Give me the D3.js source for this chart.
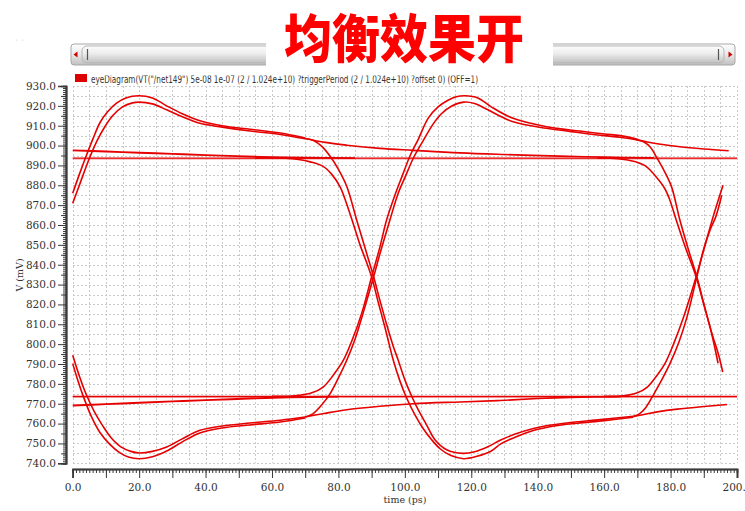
<!DOCTYPE html>
<html>
<head>
<meta charset="utf-8">
<script src="https://cdn.jsdelivr.net/npm/d3@7"></script>
<style>
  html, body { margin: 0; padding: 0; background: #ffffff; }
  svg { display: block; }
</style>
</head>
<body>
<svg id="chart" width="745" height="511"></svg>
<script>
// ---- Axis ticks -------------------------------------------------------
const xTickValues = [0, 20, 40, 60, 80, 100, 120, 140, 160, 180, 200];
const yTickValues = [740, 750, 760, 770, 780, 790, 800, 810, 820, 830, 840,
                     850, 860, 870, 880, 890, 900, 910, 920, 930];

// ---- Eye diagram traces: [time (ps), V (mV)] --------------------------
// first bit: rising edge overshoot (two passes)
const riseOuterA = [[0,876],[2,885.5],[4,894.5],[6,903],[8.2,911.5],[10.5,917],[13.2,921.4],[16,924],[19.8,925.1],[24,924],[28.3,920],[33,916],[38.3,912.5],[45,910],[53.4,908.2],[62.5,906.3],[70,903.8]];
const riseInnerA = [[0,871],[2,880],[5,893.5],[7.5,903],[9.5,909],[12,915],[15,919.5],[18,921.5],[20,921.9],[24,921],[28.3,918],[33,914.5],[38.3,911.2],[45,909.3],[53.4,907.3],[62.5,905.6],[70,903.4]];
// first bit: falling edge undershoot (two passes)
const fallOuterA = [[0,790.2],[1.5,782],[3.2,773.7],[5.5,764],[8.2,755.5],[11.2,749.5],[14,745.5],[17,743],[20,742.3],[24,743.3],[28.3,746.2],[33,750.8],[38.3,755.3],[45,757.8],[53.4,759.3],[62.5,760.8],[70,762.8]];
const fallInnerA = [[0,794.4],[2,784],[4,775],[6.5,766],[9,759],[11.5,753],[14.5,748.3],[17.5,746],[20,745.2],[24,746],[28.3,748.2],[33,752.3],[38.3,756.6],[45,758.8],[53.4,760.3],[62.5,761.7],[70,763.3]];
// long runs settling toward the steady levels
const highSettleA = [[0,897.6],[10,897],[20,896.4],[30,895.8],[40,895.2],[56.6,894.3],[70,893.9],[85,893.7]];
const lowSettleA  = [[0,769.1],[10,769.8],[20,770.5],[30,771.2],[40,771.8],[53,772.6],[65,773.2],[80,773.6]];
const highSteady  = [[0,893.7],[200,893.7]];
const lowSteady   = [[0,773.7],[200,773.7]];
// held levels after the first bit
const highHoldA = [[70,903.6],[76,901.6],[82.5,900.2],[92.5,898.6],[102.5,897.6],[116.6,896.3],[130,895.5],[146.7,894.7],[160,894.2],[175,893.8]];
const lowHoldA  = [[70,763.3],[76,765.2],[82.5,767],[92.5,768.7],[102.5,770],[116.6,770.9],[128.7,771.6],[140,772.6],[150,773.2],[165,773.6]];
// transitions through the middle crossing into the second bit
const fallFromPeak = [[70,903.6],[72.5,902.6],[75,899.6],[77.5,894.6],[80,888],[82.5,879.5],[85.5,862.5],[88,848.5],[90.6,833.9],[92.5,822],[94.5,810],[96.5,799],[98,791.9],[100,782],[102,774],[104,767],[106.5,759.5],[109,752],[112.6,746.8],[117.5,745],[121,745.8],[125,748.3],[128.7,751.6],[133,754.6],[138.7,757.5],[143,759],[148.7,760.3],[158.8,762],[168.8,763.7]];
const fallFromHold = [[55,893.7],[64,893.6],[68,893],[71.5,891.8],[75.4,889.5],[78,885.5],[80.5,879.2],[82.3,871.5],[84.1,862.5],[86.5,850],[88.3,842],[90,833.9],[92,821],[94,808.5],[96.5,792],[98.5,781.5],[100.5,773],[103,764.5],[105.5,757.5],[108,752],[110.7,747.2],[113.7,744],[117.7,742.3],[121.7,743.5],[126,746.2],[129,749.9],[133,753],[138.7,756.5],[145,758.8],[152,760.2],[160,761.5],[168.8,763.2]];
const riseFromUnder = [[70,763.3],[72.4,765],[75,769.5],[77.5,775.1],[80,783],[82.5,791.9],[85,802.5],[87.5,816],[90.6,833.9],[92.5,845.5],[95.5,862.5],[98,876],[100.3,885],[102.5,893.5],[105,901],[108.5,910.8],[111,916],[114,919.8],[117.7,921.9],[121,921.2],[125,918],[132.6,912],[142.7,908.7],[152.7,906.5],[160,905],[164.8,904.2],[170,902.8]];
const riseFromHold = [[60,773.7],[65,773.8],[68,774.2],[72,775.5],[75.4,778.4],[78.5,784.5],[81.5,791.9],[84,801.5],[87,815.5],[90,833.9],[92.5,849],[94.5,862.5],[97,875],[99.3,885.1],[101.6,895],[104,903],[107,913.7],[110,919.5],[113,922.8],[115.5,924.6],[118.1,925.1],[122,924],[126,919.5],[132.6,913.7],[142.7,909.5],[152.7,907.3],[160,905.8],[164.8,905],[170,903.2]];
// second bit: held levels and the edges into the right-hand crossing
const highHoldB = [[169.8,903],[173,901.8],[176.5,900.8],[182.8,899.4],[190,898.3],[197.5,897.4]];
const lowHoldB  = [[168.8,763.6],[172,764.6],[176,765.9],[182,767.3],[190,768.6],[197,769.6]];
const fallPeakB = [[169.8,902.8],[172,901.8],[174,899],[175.8,894],[178,887.5],[180.3,879.2],[182.8,862.5],[185.3,848],[187.9,833.9],[190.3,818.5],[192.5,805],[194.3,795.5],[195.7,786]];
const fallHoldB = [[158,893.7],[162,893.6],[166,893],[169.5,891.8],[172.8,889.3],[175.5,884.5],[178.2,878.5],[179.8,872.5],[181.7,862.5],[184.5,848.5],[187.7,833.9],[190,820],[192.2,806.5],[194.3,790.4]];
const riseUnderB = [[168.8,763.7],[170.5,764.8],[172.5,768],[175,775],[177.5,782.5],[179.8,790.2],[182.5,801],[185,814],[187.9,833.9],[190,848],[192,858],[193.6,864.1],[195.4,875]];
const riseHoldB  = [[160,773.7],[164,773.8],[167,774.3],[170,775.5],[173,778.4],[176,784.5],[178.3,790.2],[181,800.5],[184,814],[187.7,833.9],[190,847.5],[192.8,864.1],[195.8,880]];

const traces = [riseOuterA, riseInnerA, fallOuterA, fallInnerA, highHoldA, lowHoldA,
                fallFromPeak, fallFromHold, riseFromUnder, riseFromHold,
                highHoldB, lowHoldB, fallPeakB, fallHoldB, riseUnderB, riseHoldB];
const settleTraces = [highSettleA, lowSettleA];
const steadyTraces = [highSteady, lowSteady];

const legendLabel = 'eyeDiagram(VT("/net149") 5e-08 1e-07 (2 / 1.024e+10) ?triggerPeriod (2 / 1.024e+10) ?offset 0) (OFF=1)';
const titleText = '均衡效果开';

// ---- Drawing ----------------------------------------------------------
const svg = d3.select('#chart');
const x = d3.scaleLinear().domain([0, 200]).range([72.7, 737]);
const y = d3.scaleLinear().domain([740, 930]).range([463.3, 86]);
const RED = '#e60000';
const AXIS = '#3a3a3a';

// scrollbar strip above the plot
const defs = svg.append('defs');
const grad = defs.append('linearGradient').attr('id', 'sbGrad')
  .attr('x1', 0).attr('y1', 0).attr('x2', 0).attr('y2', 1);
grad.append('stop').attr('offset', '0%').attr('stop-color', '#fdfdfd');
grad.append('stop').attr('offset', '45%').attr('stop-color', '#ececec');
grad.append('stop').attr('offset', '100%').attr('stop-color', '#c0c0c0');
const sb = svg.append('g');
sb.append('rect').attr('x', 71).attr('y', 44).attr('width', 664).attr('height', 21)
  .attr('rx', 3).attr('fill', 'url(#sbGrad)').attr('stroke', '#a8a8a8');
sb.append('rect').attr('x', 82).attr('y', 46).attr('width', 642).attr('height', 17)
  .attr('rx', 5).attr('fill', 'url(#sbGrad)').attr('stroke', '#b5b5b5');
sb.append('path').attr('d', 'M73.5,54.5 L77.5,51.5 L77.5,57.5 Z').attr('fill', '#d00000');
sb.append('path').attr('d', 'M732.5,54.5 L728.5,51.5 L728.5,57.5 Z').attr('fill', '#d00000');
sb.append('line').attr('x1', 87.5).attr('x2', 87.5).attr('y1', 49).attr('y2', 60).attr('stroke', '#555').attr('stroke-width', 1.2);
sb.append('line').attr('x1', 718.5).attr('x2', 718.5).attr('y1', 49).attr('y2', 60).attr('stroke', '#555').attr('stroke-width', 1.2);
svg.append('text').attr('x', 15).attr('y', 45).attr('font-family', 'DejaVu Sans')
  .attr('font-size', 7).attr('fill', '#999').text('\u02D9 \u02D9');

// title block over the strip
svg.append('rect').attr('x', 266).attr('y', 0).attr('width', 287).attr('height', 70).attr('fill', '#ffffff');
svg.append('text').attr('text-anchor', 'middle')
  .attr('transform', 'translate(404,58) scale(1,1.1)')
  .attr('font-family', '"Noto Sans CJK SC", "Noto Sans CJK JP", sans-serif')
  .attr('font-weight', 900).attr('font-size', 48).attr('fill', '#ff0000')
  .text(titleText);

// legend
svg.append('clipPath').attr('id', 'legClip').append('rect')
  .attr('x', 0).attr('y', 75.5).attr('width', 745).attr('height', 12);
svg.append('rect').attr('x', 75).attr('y', 74).attr('width', 12).attr('height', 8).attr('fill', '#dd0000');
svg.append('text').attr('x', 91).attr('y', 82.5).attr('clip-path', 'url(#legClip)')
  .attr('font-family', '"DejaVu Sans Condensed", "DejaVu Sans", sans-serif')
  .attr('font-size', 10.5).attr('fill', '#333')
  .attr('textLength', 387).attr('lengthAdjust', 'spacingAndGlyphs')
  .text(legendLabel);

// grid
const grid = svg.append('g').attr('stroke', '#c9c9c9').attr('stroke-width', 1)
  .attr('stroke-dasharray', '2,2').attr('shape-rendering', 'crispEdges');
const gx = d3.range(0, 200.1, 5), gy = d3.range(740, 930.1, 5);
grid.selectAll('line.v').data(gx).join('line')
  .attr('x1', d => Math.round(x(d)) + 0.5).attr('x2', d => Math.round(x(d)) + 0.5)
  .attr('y1', y(930)).attr('y2', y(740));
grid.selectAll('line.h').data(gy).join('line')
  .attr('y1', d => Math.round(y(d)) + 0.5).attr('y2', d => Math.round(y(d)) + 0.5)
  .attr('x1', x(0)).attr('x2', x(200));

// y axis ruler
function styleAxis(g) {
  g.select('.domain').attr('stroke', AXIS).attr('stroke-width', 1.6);
  g.selectAll('.tick line').attr('stroke', AXIS);
}
const yMinor = svg.append('g').attr('transform', 'translate(66,0)')
  .call(d3.axisLeft(y).tickValues(d3.range(740, 930.1, 1)).tickSize(3).tickFormat(''));
styleAxis(yMinor);
const yMid = svg.append('g').attr('transform', 'translate(66,0)')
  .call(d3.axisLeft(y).tickValues(d3.range(745, 930, 10)).tickSize(5).tickFormat(''));
styleAxis(yMid);
const yAxis = svg.append('g').attr('transform', 'translate(66,0)')
  .call(d3.axisLeft(y).tickValues(yTickValues).tickSize(8).tickPadding(2).tickFormat(d3.format('.1f')));
styleAxis(yAxis);
yAxis.selectAll('text').attr('font-family', '"DejaVu Serif", serif').attr('font-size', 10.5).attr('fill', '#333');

// x axis ruler
const xMinor = svg.append('g').attr('transform', 'translate(0,469)')
  .call(d3.axisBottom(x).tickValues(d3.range(0, 200.1, 1)).tickSize(4).tickFormat(''));
styleAxis(xMinor);
const xMid = svg.append('g').attr('transform', 'translate(0,469)')
  .call(d3.axisBottom(x).tickValues(d3.range(10, 200, 20)).tickSize(9).tickFormat(''));
styleAxis(xMid);
const xAxis = svg.append('g').attr('transform', 'translate(0,469)')
  .call(d3.axisBottom(x).tickValues(xTickValues).tickSize(9).tickPadding(6).tickFormat(d3.format('.1f')));
styleAxis(xAxis);
xAxis.selectAll('text').attr('font-family', '"DejaVu Serif", serif').attr('font-size', 10.5).attr('fill', '#333');

// axis titles
svg.append('text').attr('x', 405).attr('y', 503).attr('text-anchor', 'middle')
  .attr('font-family', '"DejaVu Serif", serif').attr('font-size', 9.5).attr('fill', '#333').text('time (ps)');
svg.append('text').attr('transform', 'translate(23,275) rotate(-90)').attr('text-anchor', 'middle')
  .attr('font-family', '"DejaVu Serif", serif').attr('font-size', 9.5).attr('fill', '#333').text('V (mV)');

// traces
const line = d3.line().x(d => x(d[0])).y(d => y(d[1])).curve(d3.curveCatmullRom.alpha(0.5));
const plot = svg.append('g').attr('fill', 'none').attr('stroke-linejoin', 'round');
plot.selectAll('path.steadyPink').data(steadyTraces).join('path')
  .attr('d', line).attr('stroke', '#f29090').attr('stroke-width', 1.4)
  .attr('transform', 'translate(0,0.8)');
plot.selectAll('path.steady').data(steadyTraces).join('path')
  .attr('d', line).attr('stroke', RED).attr('stroke-width', 1.3);
plot.selectAll('path.settle').data(settleTraces).join('path')
  .attr('d', line).attr('stroke', RED).attr('stroke-width', 1.9);
plot.selectAll('path.trace').data(traces).join('path')
  .attr('d', line).attr('stroke', RED).attr('stroke-width', 1.6);
</script>
</body>
</html>
